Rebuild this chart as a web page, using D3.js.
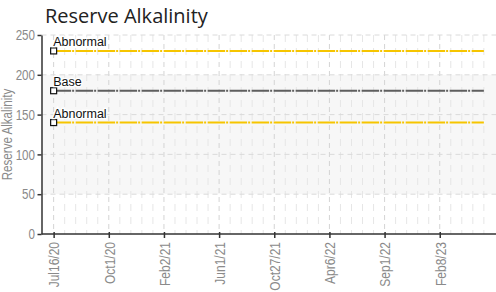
<!DOCTYPE html>
<html>
<head>
<meta charset="utf-8">
<script src="https://cdn.jsdelivr.net/npm/d3@7"></script>
<style>
  body { margin: 0; background: #fff; }
  svg { display: block; }
</style>
</head>
<body>
<svg id="chart"></svg>
<script>
// sample dates (only every 5th one is labelled on the axis)
const dates = [
    "Jul16/20", "Jul30/20", "Aug13/20", "Aug27/20", "Sep10/20",
    "Oct1/20", "Oct22/20", "Nov12/20", "Dec3/20", "Jan5/21",
    "Feb2/21", "Feb25/21", "Mar18/21", "Apr8/21", "May6/21",
    "Jun1/21", "Jul1/21", "Aug5/21", "Sep2/21", "Sep30/21",
    "Oct27/21", "Nov24/21", "Dec29/21", "Jan26/22", "Mar2/22",
    "Apr6/22", "May4/22", "Jun8/22", "Jul6/22", "Aug3/22",
    "Sep1/22", "Oct6/22", "Nov3/22", "Dec8/22", "Jan12/23",
    "Feb8/23", "Mar8/23", "Apr5/23", "May3/23", "Jun7/23"
];
const tickLabels = ["Jul16/20", "Oct1/20", "Feb2/21", "Jun1/21", "Oct27/21", "Apr6/22", "Sep1/22", "Feb8/23"];
const yTicks = [0, 50, 100, 150, 200, 250];

const upperAbnormal = [
    230, 230, 230, 230, 230, 230, 230, 230, 230, 230,
    230, 230, 230, 230, 230, 230, 230, 230, 230, 230,
    230, 230, 230, 230, 230, 230, 230, 230, 230, 230,
    230, 230, 230, 230, 230, 230, 230, 230, 230, 230
];
const base = [
    180, 180, 180, 180, 180, 180, 180, 180, 180, 180,
    180, 180, 180, 180, 180, 180, 180, 180, 180, 180,
    180, 180, 180, 180, 180, 180, 180, 180, 180, 180,
    180, 180, 180, 180, 180, 180, 180, 180, 180, 180
];
const lowerAbnormal = [
    140, 140, 140, 140, 140, 140, 140, 140, 140, 140,
    140, 140, 140, 140, 140, 140, 140, 140, 140, 140,
    140, 140, 140, 140, 140, 140, 140, 140, 140, 140,
    140, 140, 140, 140, 140, 140, 140, 140, 140, 140
];
const band = [50, 200];

const series = [
    { name: "Abnormal", values: upperAbnormal, color: "#f6c500" },
    { name: "Base", values: base, color: "#5f5f5f" },
    { name: "Abnormal", values: lowerAbnormal, color: "#f6c500" }
];

const width = 496, height = 292;
const margin = { top: 35, right: 0, bottom: 58, left: 41.5 };
const narrowFont = "Liberation Sans, Arial, sans-serif";
const squeeze = 0.8; // fake a condensed face

const svg = d3.select("#chart")
    .attr("width", width)
    .attr("height", height);

const x = d3.scalePoint()
    .domain(dates)
    .range([margin.left, width - margin.right])
    .padding(1.1);

const y = d3.scaleLinear()
    .domain([0, 250])
    .range([height - margin.bottom, margin.top]);

// shaded band
svg.append("rect")
    .attr("x", margin.left)
    .attr("y", y(band[1]))
    .attr("width", width - margin.left)
    .attr("height", y(band[0]) - y(band[1]))
    .attr("fill", "#f7f7f7");

// minor vertical grid (each sample)
svg.append("g")
    .selectAll("line")
    .data(dates.filter(d => !tickLabels.includes(d)))
    .join("line")
        .attr("x1", d => x(d)).attr("x2", d => x(d))
        .attr("y1", y(250)).attr("y2", y(0))
        .attr("stroke", "#e6e6e6")
        .attr("stroke-dasharray", "7,6");

// major vertical grid
svg.append("g")
    .selectAll("line")
    .data(tickLabels)
    .join("line")
        .attr("x1", d => x(d)).attr("x2", d => x(d))
        .attr("y1", y(250)).attr("y2", y(0))
        .attr("stroke", "#d4d4d4")
        .attr("stroke-dasharray", "5,4");

// horizontal grid
svg.append("g")
    .selectAll("line")
    .data(yTicks.filter(d => d > 0))
    .join("line")
        .attr("x1", margin.left).attr("x2", width)
        .attr("y1", d => y(d)).attr("y2", d => y(d))
        .attr("stroke", "#dadada")
        .attr("stroke-dasharray", "5,4");

// series lines
const line = d3.line()
    .x((d, i) => x(dates[i]))
    .y(d => y(d));

svg.append("g")
    .selectAll("path")
    .data(series)
    .join("path")
        .attr("d", d => line(d.values))
        .attr("fill", "none")
        .attr("stroke", d => d.color)
        .attr("stroke-width", 2)
        .attr("stroke-dasharray", "17.5,1,2,1.5");

// first point markers + labels
const first = svg.append("g")
    .selectAll("g")
    .data(series)
    .join("g")
        .attr("transform", d => `translate(${x(dates[0])},${y(d.values[0])})`);

first.append("rect")
    .attr("x", -3).attr("y", -3)
    .attr("width", 6).attr("height", 6)
    .attr("fill", "#fff")
    .attr("stroke", "#111")
    .attr("stroke-width", 1.2);

first.append("text")
    .text(d => d.name)
    .attr("x", -0.5)
    .attr("y", -4.5)
    .attr("font-family", "Liberation Sans, Arial, sans-serif")
    .attr("font-size", 12.5)
    .attr("fill", "#111")
    .attr("stroke", "#fff")
    .attr("stroke-width", 2.5)
    .attr("paint-order", "stroke");

// y axis
const yAxis = svg.append("g")
    .attr("transform", `translate(${margin.left},0)`)
    .call(d3.axisLeft(y).tickValues(yTicks).tickSize(4).tickSizeOuter(0));
yAxis.select(".domain").attr("stroke", "#333").attr("stroke-width", 1.5);
yAxis.selectAll(".tick line").attr("stroke", "#333").attr("stroke-width", 1.5);
yAxis.selectAll("text")
    .attr("font-family", narrowFont)
    .attr("font-size", 14.5)
    .attr("fill", "#8a8a8a")
    .attr("x", 0)
    .attr("transform", `translate(-6.5,0) scale(${squeeze},1)`);

// x axis
const xAxis = svg.append("g")
    .attr("transform", `translate(0,${y(0)})`)
    .call(d3.axisBottom(x).tickValues(tickLabels).tickSize(4).tickSizeOuter(0));
xAxis.select(".domain")
    .attr("d", `M${margin.left},0H${width}`)
    .attr("stroke", "#333").attr("stroke-width", 1.5);
xAxis.selectAll(".tick line").attr("stroke", "#333").attr("stroke-width", 1.5).attr("y1", -2);
xAxis.selectAll("text")
    .attr("font-family", narrowFont)
    .attr("font-size", 15)
    .attr("fill", "#8a8a8a")
    .attr("text-anchor", "end")
    .attr("transform", `translate(0,8) rotate(-90) scale(${squeeze},1)`)
    .attr("x", 0)
    .attr("y", 0)
    .attr("dy", "0.35em");

// titles
svg.append("text")
    .text("Reserve Alkalinity")
    .attr("x", 45)
    .attr("y", 23)
    .attr("font-family", "Open Sans, sans-serif")
    .attr("font-size", 20)
    .attr("fill", "#222");

svg.append("text")
    .text("Reserve Alkalinity")
    .attr("transform", `translate(12,${(y(0) + y(250)) / 2}) rotate(-90) scale(${squeeze},1)`)
    .attr("text-anchor", "middle")
    .attr("font-family", narrowFont)
    .attr("font-size", 14.5)
    .attr("fill", "#8a8a8a");
</script>
</body>
</html>
